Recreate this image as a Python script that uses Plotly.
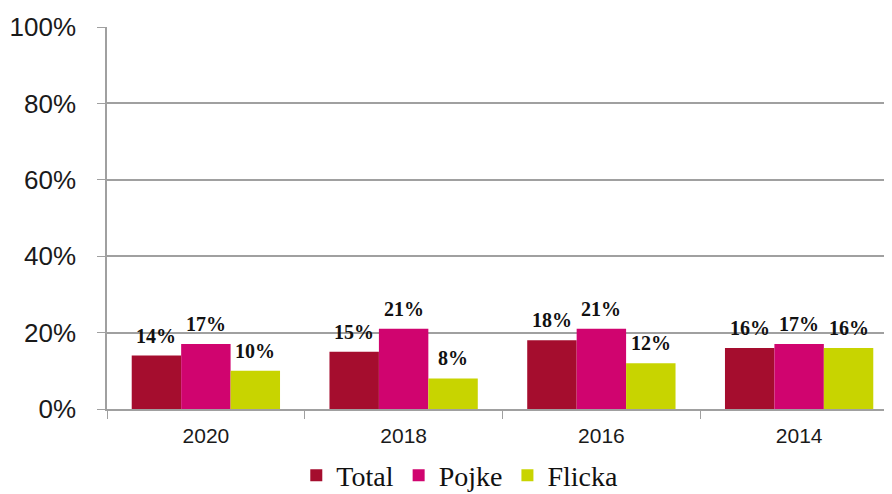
import plotly.graph_objects as go

years = ["2020", "2018", "2016", "2014"]
total = [14, 15, 18, 16]
pojke = [17, 21, 21, 17]
flicka = [10, 8, 12, 16]

series = [("Total", total, "#A50D2E"), ("Pojke", pojke, "#D0046F"), ("Flicka", flicka, "#C8D400")]

fig = go.Figure()
bar_px = 0.75 * 791 / 4 / 3  # width of one bar in pixels
for i, (name, vals, col) in enumerate(series):
    fig.add_bar(x=years, y=vals, name=name, marker_color=col, marker_line_width=0)
    # value labels above each bar
    for j, v in enumerate(vals):
        fig.add_annotation(
            x=j, y=v, xref="x", yref="y", text=f"<b>{v}%</b>", showarrow=False,
            xshift=(i - 1) * bar_px, yanchor="bottom", yshift=7,
            font=dict(family="Liberation Serif", size=20, color="#111"),
        )

fig.update_layout(
    width=892, height=494,
    margin=dict(l=99, r=2, t=19, b=93, autoexpand=False),
    paper_bgcolor="white", plot_bgcolor="white",
    barmode="group", bargap=0.25, bargroupgap=0,
    font=dict(family="Liberation Sans", color="#1a1a1a"),
    legend=dict(orientation="h", x=0.446, xanchor="center", y=-0.174, yanchor="middle",
                font=dict(family="Liberation Serif", size=28, color="#111"),
                itemwidth=30, traceorder="normal"),
)
fig.update_xaxes(
    type="category", range=[-0.5, 3.5], showline=True, linecolor="#a0a0a0", linewidth=1.5,
    ticks="outside", tickson="boundaries", ticklen=8, tickcolor="#a0a0a0",
    tickfont=dict(size=21, color="#1a1a1a"), showgrid=False, automargin=False,
    ticklabelstandoff=7,
)
fig.update_yaxes(
    range=[0, 100], dtick=20, ticksuffix="%", showline=True, linecolor="#a0a0a0", linewidth=1.5,
    ticks="outside", ticklen=8, tickcolor="#a0a0a0", gridcolor="#a0a0a0", gridwidth=1.5,
    tickfont=dict(size=26, color="#1a1a1a"), ticklabelstandoff=16, zeroline=False,
    automargin=False,
)

fig.write_html("out.html")
